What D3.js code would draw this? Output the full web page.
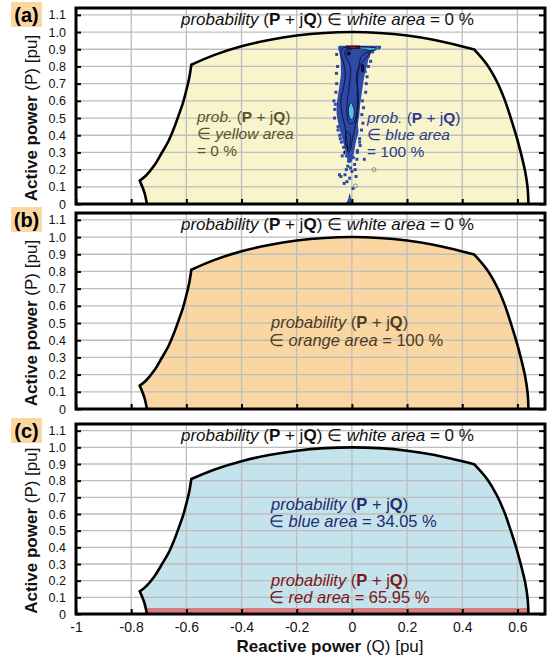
<!DOCTYPE html>
<html>
<head>
<meta charset="utf-8">
<script src="https://cdn.jsdelivr.net/npm/d3@7"></script>
<style>
    body { margin: 0; background: #fff; }
    svg { display: block; font-family: "Liberation Sans", Arial, Helvetica, sans-serif; }
    text { white-space: pre; }
</style>
</head>
<body>
<svg id="chart" width="549" height="658"></svg>
<script>

// axes
const qTicks = [-1, -0.8, -0.6, -0.4, -0.2, 0, 0.2, 0.4, 0.6];
const pTicks = [0, 0.1, 0.2, 0.3, 0.4, 0.5, 0.6, 0.7, 0.8, 0.9, 1.0, 1.1];

// capability boundary (Q, P), corners at index 2, 12, 22
const capabilityQ = [-0.743, -0.752, -0.769, -0.746, -0.716, -0.69, -0.665, -0.645, -0.627, -0.612, -0.601, -0.59,
    -0.582, -0.5, -0.4, -0.3, -0.2, -0.1, 0, 0.1, 0.2, 0.3,
    0.443, 0.49, 0.525, 0.553, 0.576, 0.597, 0.614, 0.628, 0.637, 0.64];
const capabilityP = [0, 0.066, 0.136, 0.166, 0.225, 0.295, 0.365, 0.44, 0.52, 0.59, 0.656, 0.73,
    0.81, 0.866, 0.917, 0.954, 0.98, 0.995, 1, 0.995, 0.98, 0.954,
    0.899, 0.81, 0.714, 0.61, 0.5, 0.39, 0.287, 0.19, 0.093, 0];
const corners = [0, 2, 12, 22, 31];

// probabilities
const whiteShare = [0, 0, 0];
const yellowShare = 0;
const blueShareA = 100;
const orangeShare = 100;
const blueShareC = 34.05;
const redShareC = 65.95;
const redBandTop = 0.036;

// panel (a) operating point cloud
const plumeP = [0.92, 0.905, 0.885, 0.85, 0.81, 0.75, 0.69, 0.635, 0.58, 0.52, 0.46, 0.42, 0.37, 0.32, 0.27, 0.24];
const plumeLeftQ = [-0.048, -0.05, -0.046, -0.042, -0.04, -0.04, -0.045, -0.05, -0.055, -0.055, -0.048, -0.042, -0.033, -0.025, -0.018, -0.014];
const plumeRightQ = [0.105, 0.105, 0.075, 0.062, 0.056, 0.046, 0.04, 0.035, 0.03, 0.027, 0.022, 0.024, 0.016, 0.01, 0.004, -0.002];
const contourOuter = [[-0.035, 0.905], [0.09, 0.905], [0.06, 0.885], [0.035, 0.86], [0.025, 0.8], [0.016, 0.74], [0.022, 0.66],
    [0.024, 0.58], [0.018, 0.5], [0.01, 0.44], [0.002, 0.38], [-0.005, 0.32], [-0.013, 0.3], [-0.017, 0.36], [-0.024, 0.44],
    [-0.035, 0.52], [-0.04, 0.6], [-0.03, 0.68], [-0.024, 0.75], [-0.03, 0.82], [-0.04, 0.87]];
const contourInner = [[-0.025, 0.888], [0.065, 0.888], [0.028, 0.8], [0.02, 0.72], [0.02, 0.62], [0.016, 0.52], [0.006, 0.47],
    [-0.01, 0.47], [-0.018, 0.53], [-0.015, 0.62], [-0.007, 0.72], [-0.006, 0.8]];
const contourCore = [[-0.003, 0.59], [0.008, 0.55], [0.005, 0.5], [-0.003, 0.49], [-0.012, 0.52], [-0.012, 0.56]];
const contourLow = [[-0.02, 0.42], [-0.008, 0.41], [-0.008, 0.34], [-0.015, 0.32], [-0.022, 0.35]];
const topBand = [[0.0, 0.91], [0.095, 0.91], [0.095, 0.896], [0.0, 0.896]];
const topCore = [[-0.022, 0.922], [0.03, 0.922], [0.03, 0.9], [-0.022, 0.9]];
const darkSpots = [[0.039, 0.79, 0.006, 0.025], [-0.027, 0.3, 0.004, 0.012], [-0.012, 0.875, 0.008, 0.012]];
const bottomCluster = [[-0.022, 0], [-0.013, 0.03], [-0.008, 0.065], [-0.003, 0.03], [0.006, 0]];
const scatterQ = [-0.065, -0.062, -0.058, -0.063, -0.055, -0.056, -0.052, -0.055, -0.05, -0.044, -0.038, -0.03,
    0.06, 0.055, 0.05, 0.052, 0.042, 0.038, 0.04, 0.035, 0.036, 0.028, 0.03, 0.02,
    -0.02, 0.005, -0.012, 0.01, -0.005, 0.018, -0.02, 0.0, -0.025, -0.018, -0.04, 0.015, -0.008, 0.045, 0.02,
    -0.045, -0.028, 0.06, 0.075, -0.032, 0.004, -0.05, -0.042, 0.028, 0.068, -0.06, 0.048, -0.035, 0.012, -0.015];
const scatterP = [0.6, 0.55, 0.65, 0.5, 0.7, 0.76, 0.8, 0.87, 0.45, 0.4, 0.36, 0.33,
    0.8, 0.74, 0.65, 0.7, 0.56, 0.6, 0.47, 0.43, 0.52, 0.38, 0.34, 0.31,
    0.28, 0.27, 0.25, 0.23, 0.21, 0.26, 0.2, 0.19, 0.17, 0.13, 0.16, 0.16, 0.15, 0.26, 0.3,
    0.17, 0.12, 0.86, 0.885, 0.47, 0.09, 0.43, 0.38, 0.36, 0.83, 0.58, 0.77, 0.28, 0.2, 0.22];
const ringQ = [0.08, 0.013];
const ringP = [0.2, 0.105];

const panels = [
    {letter: '(a)', top: 8, bottom: 204, fill: '#f8f5cc'},
    {letter: '(b)', top: 213, bottom: 409, fill: '#fad7a2'},
    {letter: '(c)', top: 424, bottom: 614, fill: '#c5e3ec'}
];
const left = 76, right = 545;

const svg = d3.select('#chart');
const x = d3.scaleLinear().domain([-1, 0.7]).range([left, right]);

const pq = [['(', ''], ['P', 'b'], [' + j', ''], ['Q', 'b'], [')', '']];

function richText(g, tx, ty, parts, color, size) {
    const t = g.append('text')
            .attr('x', tx)
            .attr('y', ty)
            .attr('fill', color)
            .attr('font-size', size || 16.5);
    parts.forEach(function (p) {
        t.append('tspan')
                .attr('font-style', p[1] === 'i' ? 'italic' : null)
                .attr('font-weight', p[1] === 'b' ? 'bold' : null)
                .text(p[0]);
    });
    return t;
}

function boundaryPath(y) {
    const pts = capabilityQ.map((q, i) => [x(q), y(capabilityP[i])]);
    const line = d3.line().curve(d3.curveCatmullRom.alpha(0.5));
    let d = '';
    for (let k = 0; k < corners.length - 1; k++) {
        const seg = line(pts.slice(corners[k], corners[k + 1] + 1));
        d += k === 0 ? seg : seg.replace(/^M/, 'L');
    }
    return d;
}

panels.forEach(function (panel, idx) {
    const y = d3.scaleLinear().domain([0, 1.14]).range([panel.bottom, panel.top]);
    const g = svg.append('g');
    const clipId = 'clip' + idx, shapeId = 'shape' + idx;

    const defs = g.append('defs');
    defs.append('clipPath').attr('id', clipId)
            .append('rect')
            .attr('x', left).attr('y', panel.top)
            .attr('width', right - left).attr('height', panel.bottom - panel.top);
    defs.append('clipPath').attr('id', shapeId)
            .append('path')
            .attr('d', boundaryPath(y) + 'Z');

    const plot = g.append('g').attr('clip-path', 'url(#' + clipId + ')');

    plot.append('path')
            .attr('d', boundaryPath(y) + 'Z')
            .attr('fill', panel.fill);

    if (idx === 2) {
        plot.append('rect')
                .attr('clip-path', 'url(#' + shapeId + ')')
                .attr('x', x(-1))
                .attr('y', y(redBandTop))
                .attr('width', x(0.7) - x(-1))
                .attr('height', y(0) - y(redBandTop))
                .attr('fill', '#d97b80');
    }

    // grid
    plot.selectAll('.vgrid')
            .data(qTicks.slice(1))
            .enter().append('line')
            .attr('x1', d => x(d)).attr('x2', d => x(d))
            .attr('y1', panel.top).attr('y2', panel.bottom)
            .attr('stroke', '#bdbdbd').attr('stroke-width', 1.3);
    plot.selectAll('.hgrid')
            .data(pTicks.slice(1))
            .enter().append('line')
            .attr('x1', left).attr('x2', right)
            .attr('y1', d => y(d)).attr('y2', d => y(d))
            .attr('stroke', '#bdbdbd').attr('stroke-width', 1.3);

    if (idx === 0) {
        drawCloud(plot, y);
    }

    plot.append('path')
            .attr('d', boundaryPath(y))
            .attr('fill', 'none')
            .attr('stroke', '#000')
            .attr('stroke-width', 2.6)
            .attr('stroke-linejoin', 'miter');

    // ticks
    const yAxis = g.append('g')
            .attr('transform', 'translate(' + left + ',0)')
            .call(d3.axisLeft(y).tickValues(pTicks).tickSize(-5).tickPadding(10)
                    .tickFormat(d => d === 0 ? '0' : d3.format('.1f')(d)));
    yAxis.select('.domain').remove();
    yAxis.selectAll('line').attr('stroke-width', 2);
    yAxis.selectAll('text').attr('font-size', 12.5).attr('font-family', null).attr('fill', '#111');

    const rAxis = g.append('g')
            .attr('transform', 'translate(' + right + ',0)')
            .call(d3.axisRight(y).tickValues(pTicks).tickSize(-6).tickFormat(''));
    rAxis.select('.domain').remove();
    rAxis.selectAll('line').attr('stroke-width', 2);

    const xAxis = g.append('g')
            .attr('transform', 'translate(0,' + panel.bottom + ')')
            .call(d3.axisBottom(x).tickValues(qTicks).tickSize(-5).tickPadding(8)
                    .tickFormat(idx === 2 ? (d => String(d)) : ''));
    xAxis.select('.domain').remove();
    xAxis.selectAll('line').attr('stroke-width', 2);
    xAxis.selectAll('text').attr('font-size', 14).attr('font-family', null).attr('fill', '#111');

    // frame
    g.append('rect')
            .attr('x', left).attr('y', panel.top)
            .attr('width', right - left).attr('height', panel.bottom - panel.top)
            .attr('fill', 'none').attr('stroke', '#000').attr('stroke-width', 3);

    // labels
    richText(g, 181, panel.top + 17, [['probability', 'i'], [' ', '']].concat(pq,
            [[' \u2208 ', ''], ['white area', 'i'], [' = ' + whiteShare[idx] + ' %', '']]), '#111', 17);

    g.append('rect')
            .attr('x', 11).attr('y', panel.top - 6)
            .attr('width', 31).attr('height', 25)
            .attr('fill', '#fbd7a2');
    g.append('text')
            .attr('x', 26.5).attr('y', panel.top + 14)
            .attr('text-anchor', 'middle')
            .attr('font-size', 20).attr('font-weight', 'bold')
            .text(panel.letter);

    const yt = g.append('text')
            .attr('transform', 'translate(37,' + y(0.5) + ') rotate(-90)')
            .attr('text-anchor', 'middle')
            .attr('font-size', 17)
            .attr('fill', '#111');
    yt.append('tspan').attr('font-weight', 'bold').text('Active power');
    yt.append('tspan').text(' (P) [pu]');

    if (idx === 0) {
        const c1 = '#5a5528', c2 = '#2e3b8f';
        richText(g, 197, panel.top + 114, [['prob.', 'i'], [' ', '']].concat(pq), c1, 15.5);
        richText(g, 197, panel.top + 131, [['\u2208 ', ''], ['yellow area', 'i']], c1, 15.5);
        richText(g, 197, panel.top + 148, [['= ' + yellowShare + ' %', '']], c1, 15.5);
        richText(g, 367, panel.top + 115, [['prob.', 'i'], [' ', '']].concat(pq), c2, 15.5);
        richText(g, 367, panel.top + 132, [['\u2208 ', ''], ['blue area', 'i']], c2, 15.5);
        richText(g, 367, panel.top + 149, [['= ' + blueShareA + ' %', '']], c2, 15.5);
    } else if (idx === 1) {
        const c = '#4d3a22';
        richText(g, 271, panel.top + 115, [['probability', 'i'], [' ', '']].concat(pq), c);
        richText(g, 269, panel.top + 133, [['\u2208 ', ''], ['orange area', 'i'], [' = ' + orangeShare + ' %', '']], c);
    } else {
        const cb = '#1f2b6e', cr = '#7c1618';
        richText(g, 271, panel.top + 86, [['probability', 'i'], [' ', '']].concat(pq), cb);
        richText(g, 269, panel.top + 103, [['\u2208 ', ''], ['blue area', 'i'], [' = ' + blueShareC + ' %', '']], cb);
        richText(g, 271, panel.top + 162, [['probability', 'i'], [' ', '']].concat(pq), cr);
        richText(g, 269, panel.top + 179, [['\u2208 ', ''], ['red area', 'i'], [' = ' + redShareC + ' %', '']], cr);

        const xt = g.append('text')
                .attr('x', 330).attr('y', 652)
                .attr('text-anchor', 'middle')
                .attr('font-size', 17)
                .attr('fill', '#111');
        xt.append('tspan').attr('font-weight', 'bold').text('Reactive power');
        xt.append('tspan').text(' (Q) [pu]');
    }
});

function drawCloud(plot, y) {
    const blue = '#2d4aa8';
    const closed = d3.line().x(d => x(d[0])).y(d => y(d[1])).curve(d3.curveCatmullRomClosed);
    const poly = d3.line().x(d => x(d[0])).y(d => y(d[1])).curve(d3.curveLinearClosed);

    plot.append('path')
            .datum(plumeP.map((p, i) => ({p: p, l: plumeLeftQ[i], r: plumeRightQ[i]})))
            .attr('d', d3.area().y(d => y(d.p)).x0(d => x(d.l)).x1(d => x(d.r)).curve(d3.curveCatmullRom))
            .attr('fill', blue);

    plot.selectAll('.pt')
            .data(scatterQ.map((q, i) => [q, scatterP[i]]))
            .enter().append('rect')
            .attr('x', d => x(d[0]) - 1.5).attr('y', d => y(d[1]) - 1.5)
            .attr('width', 3).attr('height', 3)
            .attr('fill', blue);

    plot.append('path').attr('d', poly(bottomCluster)).attr('fill', blue);

    plot.append('path').attr('d', poly(topBand)).attr('fill', '#3fb0e0');
    plot.append('path').attr('d', poly(topCore)).attr('fill', '#3a1a2a');
    plot.append('rect')
            .attr('x', x(-0.005)).attr('y', y(0.922))
            .attr('width', x(0.014) - x(-0.005)).attr('height', y(0.91) - y(0.922))
            .attr('fill', '#e0302a');

    [contourOuter, contourInner, contourLow].forEach(function (c) {
        plot.append('path').attr('d', closed(c))
                .attr('fill', 'none').attr('stroke', '#0a0f30').attr('stroke-width', 0.9);
    });
    plot.append('path').attr('d', closed(contourCore))
            .attr('fill', '#5cbbe8').attr('stroke', '#0a0f30').attr('stroke-width', 0.9);

    darkSpots.forEach(function (s) {
        plot.append('ellipse')
                .attr('cx', x(s[0])).attr('cy', y(s[1]))
                .attr('rx', x(s[2]) - x(0)).attr('ry', y(0) - y(s[3]))
                .attr('fill', '#0a0f30');
    });

    plot.selectAll('.ring')
            .data(ringQ.map((q, i) => [q, ringP[i]]))
            .enter().append('circle')
            .attr('cx', d => x(d[0])).attr('cy', d => y(d[1]))
            .attr('r', 2)
            .attr('fill', 'none').attr('stroke', '#777').attr('stroke-width', 0.8);
}
</script>
</body>
</html>
